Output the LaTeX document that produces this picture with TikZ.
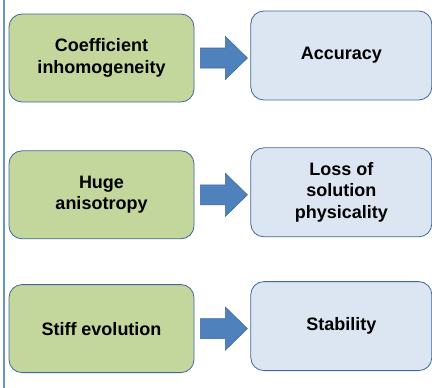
\documentclass[tikz,border=0pt]{standalone}
\usepackage{fontspec}
\setmainfont{Liberation Sans}
\usetikzlibrary{positioning,calc}

\definecolor{causegreen}{HTML}{C3D69B}
\definecolor{effectblue}{HTML}{DCE6F2}
\definecolor{edgeblue}{HTML}{41689A}
\definecolor{arrowblue}{HTML}{4F81BD}

\tikzset{
  box/.style={draw=edgeblue,line width=0.8pt,rounded corners=13pt,align=center,inner sep=0pt,
    font=\fontsize{18}{21.5}\selectfont\bfseries},
  cause/.style={box,fill=causegreen,minimum width=185pt,minimum height=88pt},
  effect/.style={box,fill=effectblue,minimum width=181pt,minimum height=89pt,yshift=2.5pt},
  fatarrow/.style={fill=arrowblue,draw=edgeblue,line width=0.6pt,line join=miter}
}

\begin{document}
\begin{tikzpicture}[x=1pt,y=-1pt]
    \useasboundingbox (0,0) rectangle (432,388);
    \draw[arrowblue!85,line width=1.1pt] (4,0) -- (4,388);
    %
    \node[cause] (cause_r1) at (101.5,58) {Coefficient\\inhomogeneity};
    \node[cause,below=48pt of cause_r1] (cause_r2) {Huge\\anisotropy};
    \node[cause,below=45pt of cause_r2] (cause_r3) {Stiff evolution};
    \node[effect,right=56pt of cause_r1] (effect_r1) {Accuracy};
    \node[effect,right=56pt of cause_r2] (effect_r2) {Loss of\\solution\\physicality};
    \node[effect,right=56pt of cause_r3] (effect_r3) {Stability};
    %
    \foreach \r in {1,2,3}{
      \coordinate (tip_r\r) at ($(cause_r\r.east -| effect_r\r.west)+(-3,0)$);
      \draw[fatarrow] ($(cause_r\r.east)+(6,-10)$) -- ++(25,0) -- ++(0,-11.5) -- (tip_r\r)
        -- ($(cause_r\r.east)+(31,21.5)$) -- ++(0,-11.5) -- ++(-25,0) -- cycle;
    }
\end{tikzpicture}
\end{document}
